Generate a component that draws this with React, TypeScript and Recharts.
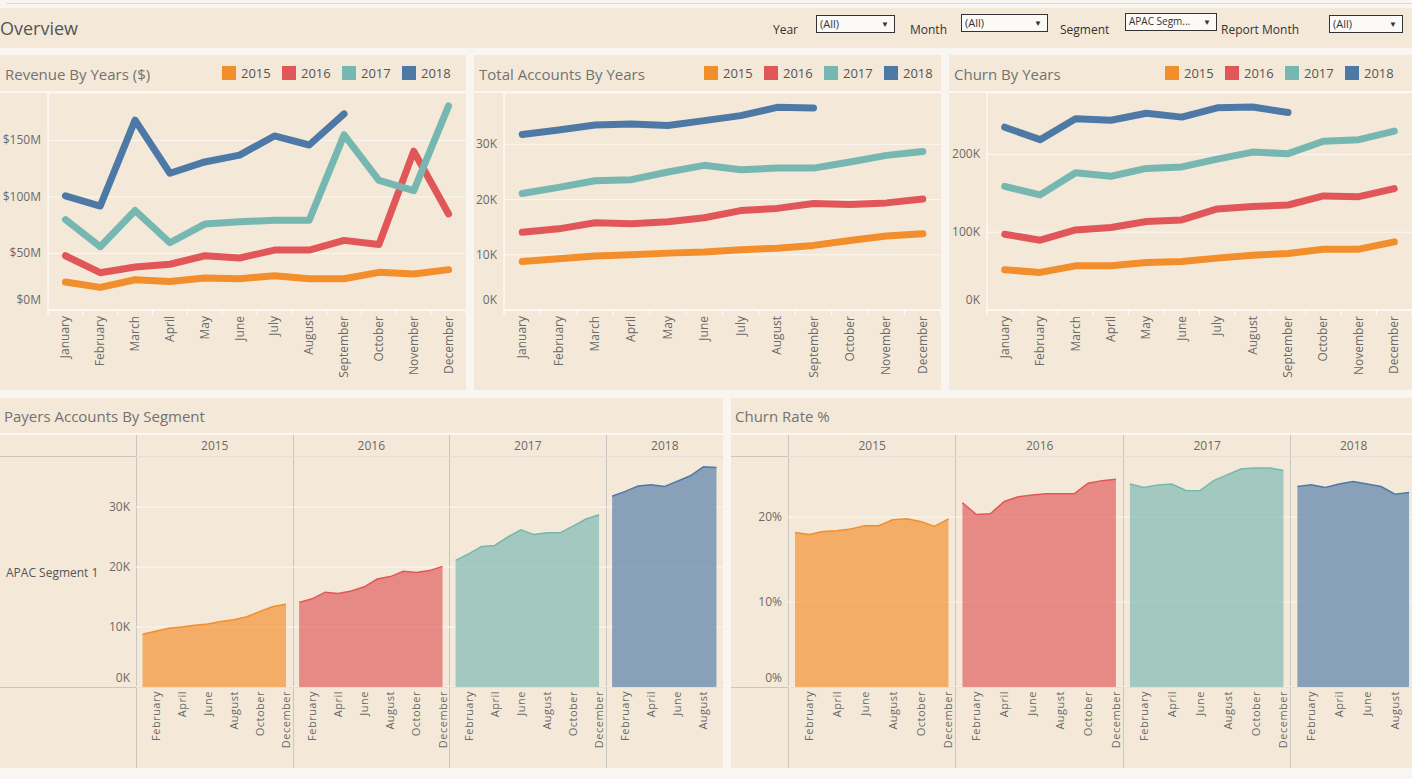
import { LineChart, Line, AreaChart, Area, XAxis, YAxis, CartesianGrid } from 'recharts'

const months = ['January', 'February', 'March', 'April', 'May', 'June', 'July', 'August', 'September', 'October', 'November', 'December']
const years = ['2015', '2016', '2017', '2018']
const yearColors = ['#f28e2b', '#e15759', '#76b7b2', '#4e79a7']

// Revenue, $M
const revenue2015 = [24.7, 20, 26.8, 25.3, 28.3, 27.7, 30.4, 27.7, 27.7, 33.3, 31.8, 35.7]
const revenue2016 = [48, 33, 38, 40.5, 48, 46, 53, 53, 61.6, 58, 140.5, 85]
const revenue2017 = [80, 56, 88, 59.5, 76, 78, 79.5, 79.5, 155, 114.6, 105.6, 180.6]
const revenue2018 = [101, 92, 168, 121, 131, 137, 154, 146, 173.5]

// Total (payer) accounts, K
const accounts2015 = [8.8, 9.3, 9.8, 10.0, 10.3, 10.5, 10.9, 11.2, 11.7, 12.6, 13.4, 13.8]
const accounts2016 = [14.1, 14.7, 15.8, 15.6, 16.0, 16.7, 18.0, 18.4, 19.3, 19.1, 19.4, 20.1]
const accounts2017 = [21.1, 22.2, 23.4, 23.6, 25.0, 26.2, 25.4, 25.7, 25.7, 26.8, 28.0, 28.7]
const accounts2018 = [31.8, 32.6, 33.5, 33.7, 33.4, 34.3, 35.2, 36.7, 36.6]

// Churn, K
const churn2015 = [51.7, 48.3, 56.8, 56.8, 61, 62.4, 66.7, 70.5, 72.6, 78.2, 78.2, 87.6]
const churn2016 = [97.4, 89.7, 103, 106, 113.7, 115.8, 130, 133, 135, 146.6, 145.7, 156]
const churn2017 = [159, 148, 176.5, 172, 182, 184, 194, 203, 201, 217, 219, 230]
const churn2018 = [235, 219, 246, 244, 253, 248, 260, 261, 254]

// Churn rate, %
const churnRate2015 = [18.2, 17.95, 18.3, 18.4, 18.6, 19.0, 19.0, 19.7, 19.8, 19.5, 18.9, 19.8]
const churnRate2016 = [21.7, 20.3, 20.4, 21.85, 22.4, 22.6, 22.75, 22.75, 22.75, 24.0, 24.3, 24.45]
const churnRate2017 = [23.9, 23.5, 23.8, 23.9, 23.15, 23.1, 24.3, 25.0, 25.7, 25.8, 25.8, 25.5]
const churnRate2018 = [23.6, 23.8, 23.5, 23.9, 24.2, 23.9, 23.6, 22.7, 22.9]

const filters = [
	{ label: 'Year', value: '(All)' },
	{ label: 'Month', value: '(All)' },
	{ label: 'Segment', value: 'APAC Segm...' },
	{ label: 'Report Month', value: '(All)' },
]

const FONT = '"Open Sans", sans-serif'
const PANEL = '#f4e9d8'
const PAGE = '#f9f5f0'
const TITLE = '#727272'
const TEXT = '#6a6a6a'
const GRID = '#fbf7f1'
const RULE = '#c9c6c1'

function yearRows(series: number[][]) {
	return months.map((month, idx) => {
		const row: Record<string, any> = { idx, month }
		years.forEach((y, k) => {
			row[y] = series[k][idx]
		})
		return row
	})
}

// one slot per month, years laid side by side
function facetRows(series: number[][]) {
	const rows: Record<string, any>[] = []
	series.forEach((values, k) => {
		values.forEach((v, j) => {
			rows.push({ idx: rows.length, month: months[j], [years[k]]: v })
		})
	})
	return rows
}

function ValueTick(props: any) {
	const { x, y, payload, fmt, zeroShift } = props
	const dy = payload.value === 0 ? zeroShift : 4
	return (
		<text x={x} y={y + dy} textAnchor='end' fill={TEXT} fontSize={12} fontFamily={FONT}>
			{fmt(payload.value)}
		</text>
	)
}

function MonthTick(props: any) {
	const { x, y, payload, bw } = props
	const edge = x - bw / 2
	return (
		<g>
			<line x1={edge} x2={edge} y1={y} y2={y + 5} stroke='#ffffff' />
			{payload.value === 11 && <line x1={x + bw / 2} x2={x + bw / 2} y1={y} y2={y + 5} stroke='#ffffff' />}
			<text
				transform={`translate(${x + 4},${y + 6}) rotate(-90)`}
				textAnchor='end'
				fill={TEXT}
				fontSize={12}
				fontFamily={FONT}
			>
				{months[payload.value]}
			</text>
		</g>
	)
}

function FacetTick(props: any) {
	const { x, y, payload, labels } = props
	return (
		<text
			transform={`translate(${x + 4},${y + 4}) rotate(-90)`}
			textAnchor='end'
			fill={TEXT}
			fontSize={11}
			fontFamily={FONT}
			letterSpacing={0.5}
		>
			{labels[payload.value]}
		</text>
	)
}

function YearLegend({ left }: { left: number }) {
	return (
		<div style={{ position: 'absolute', left, top: 11, display: 'flex' }}>
			{years.map((y, k) => (
				<div key={y} style={{ width: 60, display: 'flex', alignItems: 'center' }}>
					<div style={{ width: 14, height: 14, background: yearColors[k], marginRight: 5 }} />
					<span style={{ fontSize: 13, color: '#555', lineHeight: '14px' }}>{y}</span>
				</div>
			))}
		</div>
	)
}

interface TrendProps {
	left: number
	width: number
	title: string
	legendLeft: number
	axisWidth: number
	domain: number[]
	ticks: number[]
	fmt: (v: number) => string
	series: number[][]
}

function TrendPanel({ left, width, title, legendLeft, axisWidth, domain, ticks, fmt, series }: TrendProps) {
	const rows = yearRows(series)
	const bw = (width - axisWidth) / 12
	return (
		<div style={{ position: 'absolute', left, top: 55, width, height: 335, background: PANEL, overflow: 'hidden' }}>
			<div style={{ position: 'absolute', left: 5, top: 9, fontSize: 15, color: TITLE }}>{title}</div>
			<YearLegend left={legendLeft} />
			<div style={{ position: 'absolute', left: 0, top: 36, width, height: 2, background: '#fbf8f4' }} />
			<div style={{ position: 'absolute', left: 0, top: 38 }}>
				<LineChart width={width} height={297} data={rows} margin={{ top: 0, right: 0, bottom: 0, left: 0 }}>
					<CartesianGrid vertical={false} stroke={GRID} />
					<XAxis
						type='number'
						dataKey='idx'
						domain={[-0.5, 11.5]}
						ticks={months.map((_, i) => i)}
						interval={0}
						height={80}
						tickLine={false}
						tickSize={0}
						tickMargin={0}
						axisLine={{ stroke: '#ffffff' }}
						tick={(p: any) => <MonthTick {...p} bw={bw} />}
					/>
					<YAxis
						width={axisWidth}
						domain={domain}
						ticks={ticks}
						tickLine={false}
						tickSize={0}
						tickMargin={7}
						axisLine={{ stroke: '#ffffff' }}
						tick={(p: any) => <ValueTick {...p} fmt={fmt} zeroShift={-6} />}
					/>
					{years.map((y, k) => (
						<Line
							key={y}
							type='linear'
							dataKey={y}
							stroke={yearColors[k]}
							strokeWidth={7}
							strokeLinecap='round'
							strokeLinejoin='round'
							dot={false}
							activeDot={false}
							isAnimationActive={false}
						/>
					))}
				</LineChart>
			</div>
		</div>
	)
}

interface FacetProps {
	left: number
	width: number
	title: string
	axisWidth: number
	plotWidth: number
	domain: number[]
	ticks: number[]
	fmt: (v: number) => string
	series: number[][]
	rowLabel?: string
}

function FacetPanel({ left, width, title, axisWidth, plotWidth, domain, ticks, fmt, series, rowLabel }: FacetProps) {
	const rows = facetRows(series)
	const total = rows.length
	const unit = plotWidth / total
	const labels = rows.map((r) => r.month)
	const shownTicks = rows.filter((r) => months.indexOf(r.month) % 2 === 1).map((r) => r.idx)
	let cum = 0
	const columns = series.map((values, k) => {
		const col = { year: years[k], x: axisWidth + cum * unit, w: values.length * unit }
		cum += values.length
		return col
	})
	return (
		<div style={{ position: 'absolute', left, top: 398, width, height: 370, background: PANEL, overflow: 'hidden' }}>
			<div style={{ position: 'absolute', left: 4, top: 8, fontSize: 15, color: TITLE }}>{title}</div>
			<div style={{ position: 'absolute', left: 0, top: 35, width, height: 2, background: '#fbf8f4' }} />
			{columns.map((c) => (
				<div
					key={c.year}
					style={{
						position: 'absolute',
						left: c.x,
						top: 37,
						width: c.w,
						height: 333,
						borderLeft: `1px solid ${RULE}`,
						boxSizing: 'border-box',
					}}
				>
					<div style={{ textAlign: 'center', fontSize: 12, color: TEXT, lineHeight: '21px' }}>{c.year}</div>
				</div>
			))}
			<div style={{ position: 'absolute', left: 0, top: 58, width, height: 1, background: RULE }} />
			<div style={{ position: 'absolute', left: 0, top: 289, width, height: 1, background: RULE }} />
			{rowLabel && (
				<div style={{ position: 'absolute', left: 6, top: 166, fontSize: 12, color: '#555' }}>{rowLabel}</div>
			)}
			<div style={{ position: 'absolute', left: 0, top: 58 }}>
				<AreaChart
					width={axisWidth + plotWidth}
					height={312}
					data={rows}
					margin={{ top: 0, right: 0, bottom: 0, left: 0 }}
				>
					<CartesianGrid vertical={false} stroke={GRID} />
					<XAxis
						type='number'
						dataKey='idx'
						domain={[-0.5, total - 0.5]}
						ticks={shownTicks}
						interval={0}
						height={81}
						tickLine={false}
						tickSize={0}
						tickMargin={0}
						axisLine={false}
						tick={(p: any) => <FacetTick {...p} labels={labels} />}
					/>
					<YAxis
						width={axisWidth}
						domain={domain}
						ticks={ticks}
						tickLine={false}
						tickSize={0}
						tickMargin={6}
						axisLine={false}
						tick={(p: any) => <ValueTick {...p} fmt={fmt} zeroShift={-5} />}
					/>
					{years.map((y, k) => (
						<Area
							key={y}
							type='linear'
							dataKey={y}
							stroke={yearColors[k]}
							strokeWidth={1.5}
							fill={yearColors[k]}
							fillOpacity={0.65}
							dot={false}
							activeDot={false}
							isAnimationActive={false}
						/>
					))}
				</AreaChart>
			</div>
		</div>
	)
}

const filterBoxes = [
	{ labelLeft: 773, boxLeft: 816, boxWidth: 79, top: 15 },
	{ labelLeft: 910, boxLeft: 961, boxWidth: 87, top: 14 },
	{ labelLeft: 1060, boxLeft: 1125, boxWidth: 92, top: 13 },
	{ labelLeft: 1221, boxLeft: 1329, boxWidth: 74, top: 15 },
]

export default function App() {
	const accounts = [accounts2015, accounts2016, accounts2017, accounts2018]
	return (
		<div
			style={{
				position: 'absolute',
				left: 0,
				top: 0,
				width: 1412,
				height: 779,
				background: PAGE,
				overflow: 'hidden',
				fontFamily: FONT,
			}}
		>
			<div style={{ position: 'absolute', left: 6, top: 3, width: 1406, height: 1, background: '#dcdcdc' }} />
			<div style={{ position: 'absolute', left: 0, top: 8, width: 1412, height: 40, background: PANEL }}>
				<div style={{ position: 'absolute', left: 0, top: 8, fontSize: 18, color: '#555' }}>Overview</div>
				{filters.map((f, i) => {
					const b = filterBoxes[i]
					return (
						<div key={f.label}>
							<div style={{ position: 'absolute', left: b.labelLeft, top: 13, fontSize: 12, color: '#333' }}>
								{f.label}
							</div>
							<div
								style={{
									position: 'absolute',
									left: b.boxLeft,
									top: b.top - 8,
									width: b.boxWidth,
									height: 18,
									boxSizing: 'border-box',
									border: '1px solid #333',
									background: '#fcfaf6',
									fontSize: f.value.length > 6 ? 10 : 11,
									color: '#333',
									paddingLeft: 3,
									lineHeight: '15px',
								}}
							>
								{f.value}
								<span style={{ position: 'absolute', right: 5, top: 0, fontSize: 8 }}>▼</span>
							</div>
						</div>
					)
				})}
			</div>

			<TrendPanel
				left={0}
				width={466}
				title='Revenue By Years ($)'
				legendLeft={222}
				axisWidth={48}
				domain={[0, 192]}
				ticks={[0, 50, 100, 150]}
				fmt={(v) => `$${v}M`}
				series={[revenue2015, revenue2016, revenue2017, revenue2018]}
			/>
			<TrendPanel
				left={474}
				width={467}
				title='Total Accounts By Years'
				legendLeft={230}
				axisWidth={30}
				domain={[0, 39.3]}
				ticks={[0, 10, 20, 30]}
				fmt={(v) => `${v}K`}
				series={accounts}
			/>
			<TrendPanel
				left={949}
				width={463}
				title='Churn By Years'
				legendLeft={216}
				axisWidth={38}
				domain={[0, 279]}
				ticks={[0, 100, 200]}
				fmt={(v) => `${v}K`}
				series={[churn2015, churn2016, churn2017, churn2018]}
			/>

			<FacetPanel
				left={0}
				width={723}
				title='Payers Accounts By Segment'
				axisWidth={136}
				plotWidth={587}
				domain={[0, 38.5]}
				ticks={[0, 10, 20, 30]}
				fmt={(v) => `${v}K`}
				series={accounts}
				rowLabel='APAC Segment 1'
			/>
			<FacetPanel
				left={731}
				width={681}
				title='Churn Rate %'
				axisWidth={57}
				plotWidth={628}
				domain={[0, 27.2]}
				ticks={[0, 10, 20]}
				fmt={(v) => `${v}%`}
				series={[churnRate2015, churnRate2016, churnRate2017, churnRate2018]}
			/>
		</div>
	)
}
